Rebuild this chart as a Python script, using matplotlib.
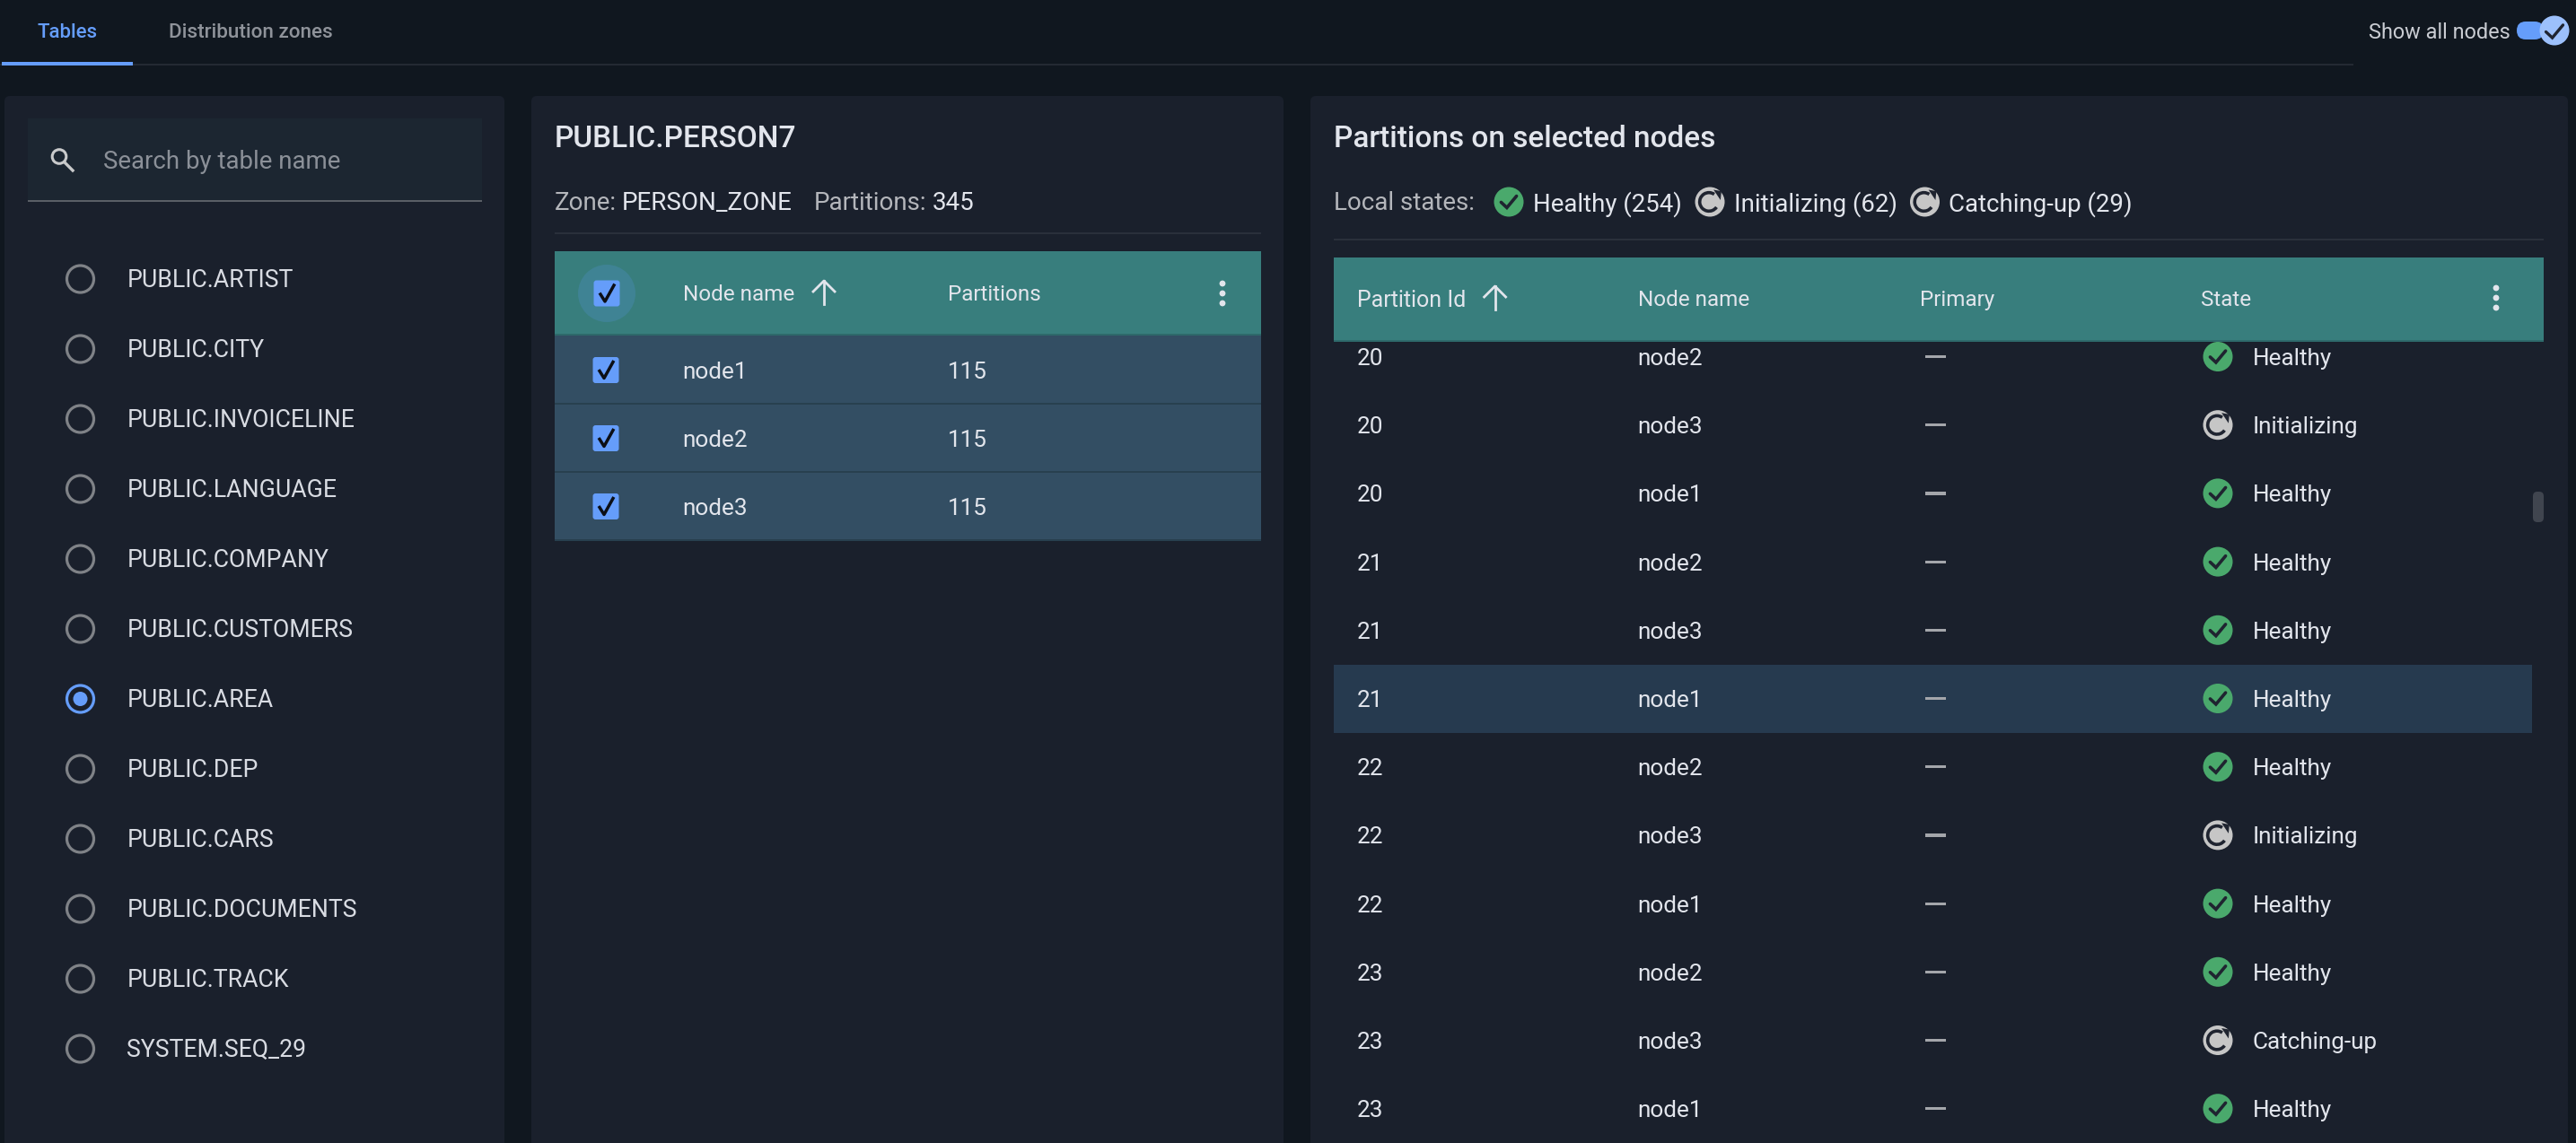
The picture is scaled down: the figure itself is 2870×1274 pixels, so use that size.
import matplotlib
matplotlib.use("Agg")
import matplotlib.pyplot as plt
from matplotlib.patches import Rectangle, Circle, FancyBboxPatch, Arc, Polygon

plt.rcParams['font.family'] = ['Roboto', 'DejaVu Sans']

# ---- content -------------------------------------------------------------
tabs = ["Tables", "Distribution zones"]
table_names = ["PUBLIC.ARTIST", "PUBLIC.CITY", "PUBLIC.INVOICELINE", "PUBLIC.LANGUAGE",
               "PUBLIC.COMPANY", "PUBLIC.CUSTOMERS", "PUBLIC.AREA", "PUBLIC.DEP",
               "PUBLIC.CARS", "PUBLIC.DOCUMENTS", "PUBLIC.TRACK", "SYSTEM.SEQ_29"]
selected_table = "PUBLIC.AREA"
node_names = ["node1", "node2", "node3"]
node_partitions = [115, 115, 115]
state_labels = ["Healthy", "Initializing", "Catching-up"]
state_counts = [254, 62, 29]
partition_ids = [20, 20, 20, 21, 21, 21, 22, 22, 22, 23, 23, 23]
partition_nodes = ["node2", "node3", "node1"] * 4
partition_states = ["Healthy", "Initializing", "Healthy", "Healthy", "Healthy", "Healthy",
                    "Healthy", "Initializing", "Healthy", "Healthy", "Catching-up", "Healthy"]
highlighted_row = 5

# ---- palette -------------------------------------------------------------
BG, PANEL, SEARCH = "#10171f", "#1a202c", "#1c2631"
TEAL, ROW, ROW_EDGE, HILITE = "#387e7d", "#334e63", "#28404f", "#263a4f"
BLUE, GREEN, GREY = "#659dfa", "#4aa96c", "#c6c6c6"
TEXT, MUTED, DIM = "#e2e5ec", "#b4b6bb", "#8b9098"
LINE = "#2a303b"
DARK = "#1f2430"

fig = plt.figure(figsize=(28.7, 12.74), dpi=100, facecolor=BG)
ax = fig.add_axes([0, 0, 1, 1])
ax.set_xlim(0, 2870)
ax.set_ylim(1274, 0)
ax.axis("off")


def rect(x0, y0, x1, y1, color, z=1):
    ax.add_patch(Rectangle((x0, y0), x1 - x0, y1 - y0, fc=color, ec="none", zorder=z))


def panel(x0, y0, x1, y1):
    ax.add_patch(FancyBboxPatch((x0 + 6, y0 + 6), x1 - x0 - 12, y1 - y0 - 12,
                                boxstyle="round,pad=6,rounding_size=6", fc=PANEL, ec="none", zorder=1))


def label(x, y, s, size=17.5, color=TEXT, weight="normal", ha="left", z=6, **kw):
    return ax.text(x, y, s, fontsize=size, color=color, weight=weight, ha=ha, va="center_baseline",
                   zorder=z, **kw)


def check_mark(cx, cy, s, color=DARK, lw=2.6, z=7):
    ax.plot([cx - s, cx - 0.25 * s, cx + s], [cy + 0.05 * s, cy + 0.75 * s, cy - 0.75 * s],
            color=color, lw=lw, zorder=z, solid_capstyle="round", solid_joinstyle="miter")


def checkbox(cx, cy, z=5):
    ax.add_patch(FancyBboxPatch((cx - 12.5, cy - 12.5), 25, 25, boxstyle="round,pad=2,rounding_size=3",
                                fc=BLUE, ec="none", zorder=z))
    ax.plot([cx - 7, cx - 2, cx + 8], [cy + 1, cy + 9, cy - 9], color="#0c0f16", lw=2.5, zorder=z + 1)


def sort_arrow(cx, cy):
    ax.plot([cx, cx], [cy - 13, cy + 13], color=TEXT, lw=2, zorder=6)
    ax.plot([cx - 12, cx, cx + 12], [cy - 1, cy - 13, cy - 1], color=TEXT, lw=2, zorder=6)


def menu_dots(cx, cy):
    for d in (-11, 0, 11):
        ax.add_patch(Circle((cx, cy + d), 3.4, fc=TEXT, ec="none", zorder=6))


def state_icon(cx, cy, state, r=16.5):
    if state == "Healthy":
        ax.add_patch(Circle((cx, cy), r, fc=GREEN, ec="none", zorder=5))
        check_mark(cx, cy, r * 0.52)
    else:
        ax.add_patch(Circle((cx, cy), r, fc=GREY, ec="none", zorder=5))
        ax.add_patch(Arc((cx - 1, cy), r * 1.25, r * 1.25, theta1=35, theta2=305, color=DARK, lw=2.6, zorder=6))
        ax.add_patch(Polygon([[cx + 0.25 * r, cy - r * 0.82], [cx + r * 0.78, cy - r * 0.72],
                              [cx + r * 0.72, cy - r * 0.12]], fc=DARK, ec="none", zorder=7))


# ---- top bar -------------------------------------------------------------
rect(0, 71, 2622, 72.5, "#242a33", 1)
rect(2, 69, 148, 72.5, BLUE, 2)
label(75, 34, tabs[0], 16, BLUE, "medium", ha="center")
label(188, 34, tabs[1], 16.2, "#8f939a", "medium")
label(2639, 34, "Show all nodes", 16.9, "#c9ccd2")
ax.add_patch(FancyBboxPatch((2804, 24), 30, 20, boxstyle="round,pad=0,rounding_size=10", fc=BLUE, ec="none", zorder=3))
ax.add_patch(Circle((2846, 34), 16.5, fc="#9cc0fb", ec="none", zorder=4))
check_mark(2846, 35, 9.5, DARK, 2.4)

# ---- panels --------------------------------------------------------------
panel(5, 107, 562, 1300)
panel(592, 107, 1430, 1300)
panel(1460, 107, 2861, 1300)

# ---- left panel ----------------------------------------------------------
rect(31, 132, 537, 223, SEARCH, 2)
rect(31, 222.5, 537, 224.5, "#5a5f66", 3)
ax.add_patch(Circle((66, 174.5), 7.8, fc="none", ec="#c9cacb", lw=2.2, zorder=4))
ax.plot([71.5, 81], [180.5, 190], color="#c9cacb", lw=2.4, zorder=4)
label(115, 178, "Search by table name", 19.9, DIM)

radio_y0, radio_dy = 311, 78
for i, name in enumerate(table_names):
    y = radio_y0 + i * radio_dy
    on = name == selected_table
    ax.add_patch(Circle((89.5, y), 15, fc="none", ec=BLUE if on else "#7f8287", lw=2.3, zorder=3))
    if on:
        ax.add_patch(Circle((89.5, y), 8, fc=BLUE, ec="none", zorder=3))
    label(141.5, y - 1.5, name, 19.2, "#d8dbe2")

# ---- middle panel --------------------------------------------------------
label(618, 151.5, "PUBLIC.PERSON7", 24, TEXT, "medium")
label(618, 223, "Zone:", 20, MUTED)
label(693, 223, "PERSON_ZONE", 20, TEXT)
label(907, 223, "Partitions:", 20, MUTED)
label(1039, 223, str(sum(node_partitions)), 20, TEXT)
rect(618, 259, 1405, 261, LINE, 2)

rect(618, 280, 1405, 373, TEAL, 2)
rect(618, 372, 1405, 374, "#2e6a6b", 3)
ax.add_patch(Circle((676, 327), 32, fc="#3f8394", ec="none", zorder=3))
checkbox(676, 327)
label(761, 326, "Node name", 17.5)
sort_arrow(918, 326)
label(1056, 326, "Partitions", 17.5)
menu_dots(1362, 327)

for i, (n, p) in enumerate(zip(node_names, node_partitions)):
    top = 374 + i * 76
    rect(618, top, 1405, top + 76, ROW, 2)
    rect(618, top + 74.5, 1405, top + 76.5, ROW_EDGE, 3)
    cy = top + 38.5
    checkbox(675, cy)
    label(760, cy, n, 18.8)
    label(1056, cy, str(p), 18.8)

# ---- right panel ---------------------------------------------------------
label(1486, 151.5, "Partitions on selected nodes", 24, TEXT, "medium")
label(1486, 224, "Local states:", 20, MUTED)
legend_icon_x = [1681, 1905, 2144.5]
legend_text_x = [1708, 1931.5, 2170.7]
for s, c, ix, tx in zip(state_labels, state_counts, legend_icon_x, legend_text_x):
    state_icon(ix, 225, s)
    label(tx, 224, f"{s} ({c})", 19.9, TEXT)
rect(1486, 266, 2834, 268, LINE, 2)

rect(1486, 287, 2834, 380, TEAL, 8)
rect(1486, 379, 2834, 381, "#2e6a6b", 8)
for x, s in zip([1512.5, 1825, 2139, 2452], ["Partition Id", "Node name", "Primary", "State"]):
    label(x, 332, s, 18 if s == "Partition Id" else 17.5, z=9)
ax.plot([1665.6, 1665.6], [319, 345], color=TEXT, lw=2, zorder=9)
ax.plot([1653.6, 1665.6, 1677.6], [331, 319, 331], color=TEXT, lw=2, zorder=9)
for d in (-11, 0, 11):
    ax.add_patch(Circle((2781, 332 + d), 3.4, fc=TEXT, ec="none", zorder=9))

row_y0, row_dy = 397.5, 76.2
for i, (pid, n, st) in enumerate(zip(partition_ids, partition_nodes, partition_states)):
    y = row_y0 + i * row_dy
    if i == highlighted_row:
        rect(1486, y - 37.5, 2821, y + 38.5, HILITE, 2)
    label(1511.5, y, str(pid), 18.8)
    label(1824, y, n, 18.8)
    rect(2145, y - 1.6, 2168, y + 1.6, "#a4a6ab", 3)
    state_icon(2471, y, st)
    label(2509.5, y, st, 18.8)

ax.add_patch(FancyBboxPatch((2824, 550), 8, 30, boxstyle="round,pad=2,rounding_size=5",
                            fc="#40454f", ec="none", zorder=4))

fig.savefig("out.png", dpi=100, facecolor=BG)
